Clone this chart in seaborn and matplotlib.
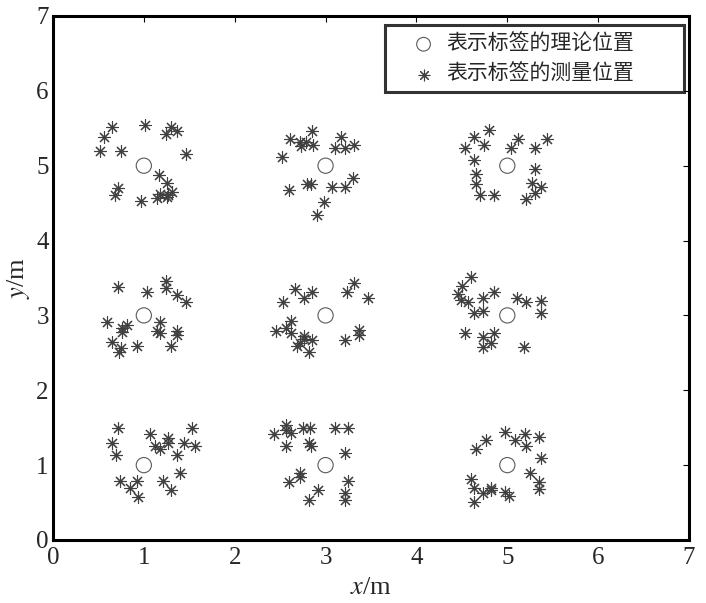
import matplotlib
matplotlib.use("Agg")
import matplotlib.pyplot as plt
import seaborn as sns

# theoretical tag positions
theory_x = [1, 3, 5, 1, 3, 5, 1, 3, 5]
theory_y = [5, 5, 5, 3, 3, 3, 1, 1, 1]

meas_x = [
    # (1,5)
    0.65, 0.56, 0.52, 0.75, 1.01, 1.30, 1.36, 1.24, 1.46, 1.17, 1.25, 0.72, 0.68, 0.97, 1.15, 1.25, 1.31, 1.27, 1.18,
    # (3,5)
    2.85, 2.61, 2.72, 2.79, 2.86, 2.73, 2.52, 3.17, 3.10, 3.21, 3.31, 3.30, 2.60, 2.80, 2.84, 3.07, 3.21, 2.98, 2.91,
    # (5,5)
    4.80, 4.63, 4.74, 4.53, 5.12, 5.04, 5.44, 5.31, 4.63, 5.31, 4.66, 4.66, 5.27, 5.37, 5.31, 5.21, 4.70, 4.85,
    # (1,3)
    0.72, 1.04, 1.24, 1.245, 1.36, 1.46, 0.60, 0.82, 0.755, 0.755, 1.18, 1.15, 1.18, 1.37, 1.37, 0.65, 0.75, 0.73, 0.92, 1.30,
    # (3,3)
    2.66, 2.85, 2.76, 2.53, 3.31, 3.24, 3.47, 2.62, 2.46, 2.56, 2.62, 2.76, 2.76, 2.85, 2.72, 2.69, 2.82, 3.21, 3.37, 3.37,
    # (5,3)
    4.60, 4.50, 4.46, 4.49, 4.57, 4.73, 4.85, 4.73, 4.63, 5.11, 5.21, 5.37, 5.37, 4.53, 4.73, 4.85, 4.82, 4.73, 5.18,
    # (1,1)
    0.72, 0.65, 0.69, 1.07, 1.12, 1.18, 1.27, 1.27, 1.44, 1.53, 1.56, 1.36, 1.40, 0.74, 0.92, 0.85, 0.94, 1.21, 1.30,
    # (3,1)
    2.56, 2.56, 2.62, 2.43, 2.75, 2.83, 3.10, 3.25, 2.56, 2.82, 2.84, 3.21, 2.72, 2.72, 2.60, 2.92, 2.82, 3.25, 3.21, 3.21,
    # (5,1)
    4.98, 5.19, 5.35, 5.08, 5.21, 4.76, 4.66, 5.37, 5.25, 4.60, 4.63, 4.73, 4.82, 4.82, 4.63, 4.98, 5.02, 5.35, 5.35,
]
meas_y = [
    # (1,5)
    5.52, 5.39, 5.20, 5.20, 5.55, 5.52, 5.47, 5.43, 5.15, 4.87, 4.77, 4.70, 4.61, 4.53, 4.57, 4.58, 4.65, 4.61, 4.62,
    # (3,5)
    5.47, 5.35, 5.32, 5.32, 5.27, 5.26, 5.11, 5.39, 5.23, 5.23, 5.27, 4.84, 4.68, 4.76, 4.76, 4.71, 4.72, 4.52, 4.34,
    # (5,5)
    5.48, 5.39, 5.27, 5.24, 5.36, 5.24, 5.36, 5.24, 5.07, 4.96, 4.89, 4.76, 4.77, 4.72, 4.64, 4.56, 4.61, 4.61,
    # (1,3)
    3.38, 3.31, 3.46, 3.36, 3.27, 3.18, 2.91, 2.87, 2.83, 2.78, 2.91, 2.79, 2.76, 2.79, 2.74, 2.65, 2.56, 2.51, 2.59, 2.59,
    # (3,3)
    3.35, 3.31, 3.23, 3.18, 3.43, 3.31, 3.23, 2.92, 2.79, 2.83, 2.76, 2.72, 2.68, 2.67, 2.63, 2.59, 2.51, 2.67, 2.80, 2.74,
    # (5,3)
    3.51, 3.39, 3.28, 3.20, 3.18, 3.23, 3.31, 3.06, 3.03, 3.23, 3.18, 3.19, 3.03, 2.76, 2.71, 2.77, 2.63, 2.58, 2.58,
    # (1,1)
    1.49, 1.29, 1.13, 1.41, 1.25, 1.21, 1.36, 1.29, 1.29, 1.49, 1.25, 1.13, 0.90, 0.79, 0.79, 0.70, 0.57, 0.79, 0.67,
    # (3,1)
    1.53, 1.47, 1.43, 1.41, 1.49, 1.49, 1.49, 1.49, 1.25, 1.29, 1.25, 1.16, 0.90, 0.84, 0.78, 0.67, 0.54, 0.79, 0.63, 0.54,
    # (5,1)
    1.44, 1.41, 1.37, 1.33, 1.25, 1.33, 1.21, 1.09, 0.90, 0.81, 0.70, 0.63, 0.70, 0.67, 0.51, 0.64, 0.59, 0.78, 0.68,
]

sns.set_style("white")
plt.rcParams["font.family"] = ["Liberation Serif", "DejaVu Serif"]
plt.rcParams["mathtext.fontset"] = "stix"

fig = plt.figure(figsize=(7.06, 6.03), dpi=100)
ax = fig.add_axes([0.075, 0.1045, 0.901, 0.869])

sns.scatterplot(x=theory_x, y=theory_y, ax=ax, marker="o", s=120,
                facecolor="none", edgecolor="#5a5a5a", linewidth=0.8,
                label="表示标签的理论位置")
sns.scatterplot(x=meas_x, y=meas_y, ax=ax, marker=(8, 2, 0), s=75,
                color="#404040", linewidth=0.8,
                label="表示标签的测量位置")

ax.set_xlim(0, 7)
ax.set_ylim(0, 7)
ax.set_xticks(range(8))
ax.set_yticks(range(8))
ax.tick_params(direction="in", length=4, width=0.8, labelsize=18,
               top=True, right=True, color="black")
ax.tick_params(axis="x", pad=5)
ax.tick_params(axis="y", pad=3)
for s in ax.spines.values():
    s.set_linewidth(2.2)
    s.set_color("black")

ax.set_xlabel("$x$/m", fontsize=19, labelpad=6)
ax.set_ylabel("$y$/m", fontsize=19, labelpad=3)

leg = ax.legend(loc="upper left", bbox_to_anchor=(0.522, 0.855, 0.470, 0.127),
                mode="expand", borderaxespad=0, frameon=True, fancybox=False,
                prop={"family": ["Noto Sans CJK SC"], "size": 15},
                handlelength=3.0, handletextpad=-0.4, borderpad=0.35,
                labelspacing=0.4, markerscale=0.9)
leg.get_frame().set_edgecolor("black")
leg.get_frame().set_linewidth(2.2)

fig.savefig("out.png", dpi=100)
